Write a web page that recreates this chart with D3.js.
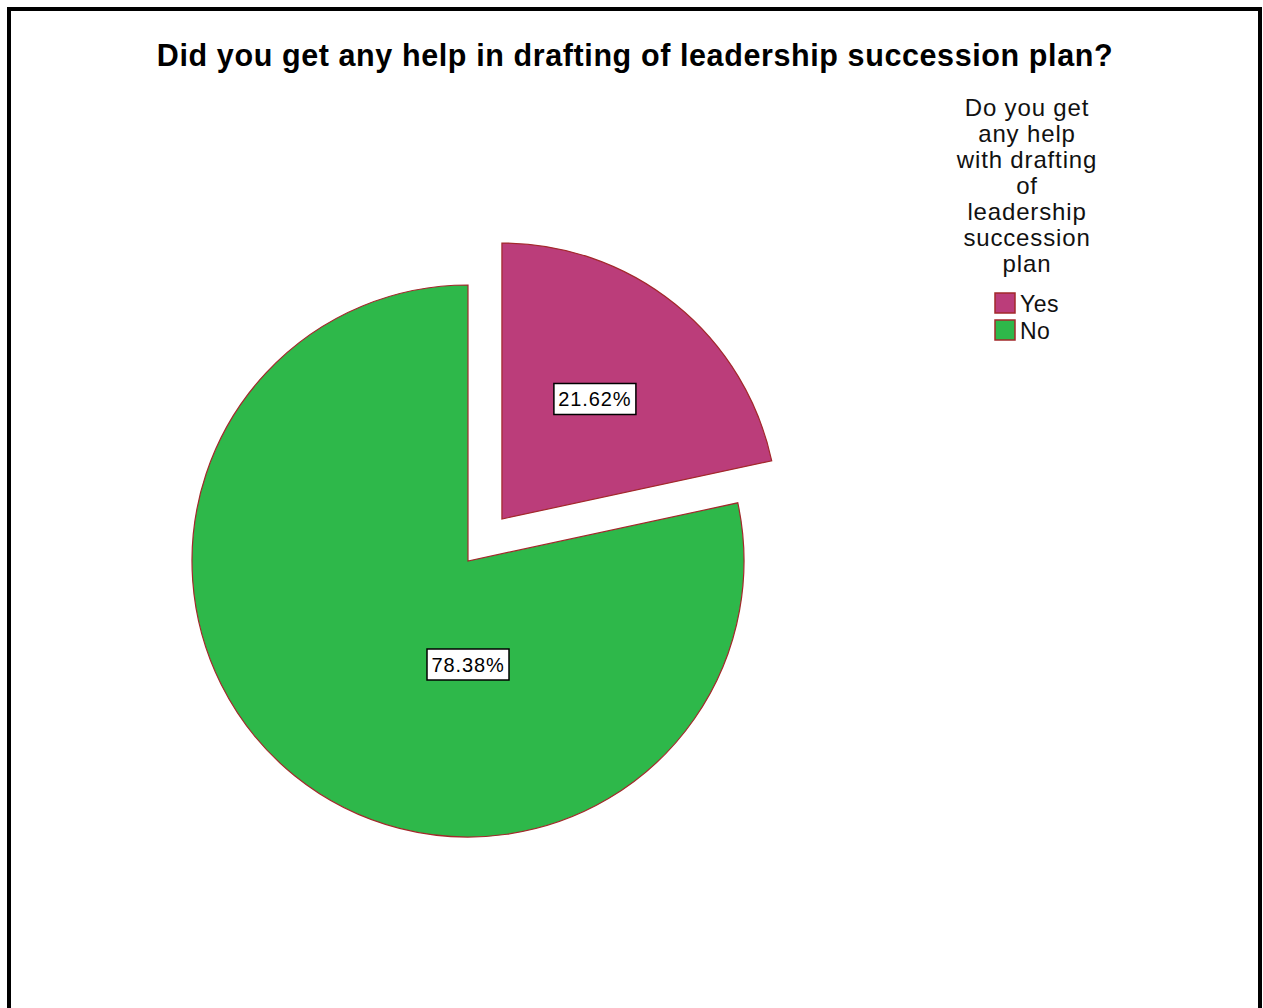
<!DOCTYPE html>
<html>
<head>
<meta charset="utf-8">
<script src="https://cdn.jsdelivr.net/npm/d3@7"></script>
<style>
  html, body { margin: 0; padding: 0; background: #fff; }
  svg { display: block; }
</style>
</head>
<body>
<svg id="chart" width="1263" height="1008"></svg>
<script>
// Survey answers and their shares (percent)
const categories = ["Yes", "No"];
const shares = [21.62, 78.38];
const colors = ["#BB3D7A", "#2EB84A"];
const chartTitle = "Did you get any help in drafting of leadership succession plan?";
const legendTitle = ["Do you get", "any help", "with drafting", "of", "leadership", "succession", "plan"];

const W = 1263, H = 1008;
const svg = d3.select("#chart");
const font = "Liberation Sans, Arial, sans-serif";

// Frame
svg.append("rect")
  .attr("x", 9).attr("y", 9)
  .attr("width", 1251).attr("height", 1020)
  .attr("fill", "#fff").attr("stroke", "#000").attr("stroke-width", 4);

// Title
svg.append("text")
  .attr("x", 635).attr("y", 66)
  .attr("text-anchor", "middle")
  .attr("font-family", font)
  .attr("font-weight", "bold")
  .attr("font-size", 30.5)
  .attr("letter-spacing", 0.6)
  .attr("fill", "#000")
  .text(chartTitle);

// Pie
const cx = 468, cy = 561, R = 276, explode = 54;
const data = categories.map((c, i) => ({ cat: c, value: shares[i], color: colors[i] }));
const pie = d3.pie().sort(null).value(d => d.value);
const arcs = pie(data);
const arc = d3.arc().innerRadius(0).outerRadius(R);

const g = svg.append("g").attr("transform", `translate(${cx},${cy})`);

arcs.forEach((a, i) => {
  const mid = (a.startAngle + a.endAngle) / 2;
  const off = i === 0 ? explode : 0;
  const dx = Math.sin(mid) * off, dy = -Math.cos(mid) * off;
  const sg = g.append("g").attr("transform", `translate(${dx},${dy})`);
  sg.append("path")
    .attr("d", arc(a))
    .attr("fill", a.data.color)
    .attr("stroke", "#A3282B")
    .attr("stroke-width", 1.2);

  // Label position: exploded slice near its mid angle, main slice straight below
  let lx, ly;
  if (i === 0) {
    const la = mid - 0.02;
    lx = Math.sin(la) * R * 0.55;
    ly = -Math.cos(la) * R * 0.55;
  } else {
    lx = 0;
    ly = R * 0.375;
  }
  const label = d3.format(".2f")(a.data.value) + "%";
  const lg = sg.append("g").attr("transform", `translate(${lx},${ly})`);
  lg.append("rect")
    .attr("x", -41).attr("y", -15.5)
    .attr("width", 82).attr("height", 31)
    .attr("fill", "#fff").attr("stroke", "#000").attr("stroke-width", 1.5);
  lg.append("text")
    .attr("x", 0).attr("y", 7)
    .attr("text-anchor", "middle")
    .attr("font-family", font)
    .attr("font-size", 20)
    .attr("letter-spacing", 0.9)
    .attr("fill", "#000")
    .text(label);
});

// Legend
const lgX = 1027;
const legend = svg.append("g");
legend.selectAll("text.lt")
  .data(legendTitle)
  .join("text")
  .attr("class", "lt")
  .attr("x", lgX)
  .attr("y", (d, i) => 116 + i * 26)
  .attr("text-anchor", "middle")
  .attr("font-family", font)
  .attr("font-size", 24)
  .attr("letter-spacing", 0.85)
  .attr("fill", "#111")
  .text(d => d);

const items = legend.selectAll("g.item")
  .data(data)
  .join("g")
  .attr("class", "item")
  .attr("transform", (d, i) => `translate(995,${293 + i * 27})`);
items.append("rect")
  .attr("width", 20).attr("height", 20)
  .attr("fill", d => d.color)
  .attr("stroke", "#A3282B").attr("stroke-width", 1.5);
items.append("text")
  .attr("x", 25).attr("y", 19)
  .attr("font-family", font)
  .attr("font-size", 23)
  .attr("letter-spacing", 0.5)
  .attr("fill", "#111")
  .text(d => d.cat);
</script>
</body>
</html>
